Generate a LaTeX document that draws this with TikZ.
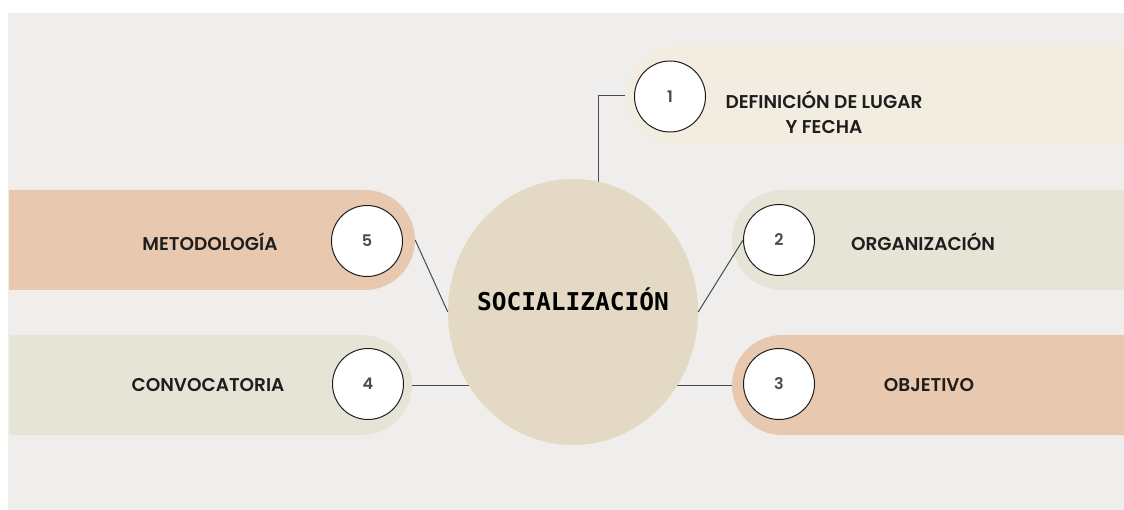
\documentclass[tikz,border=0pt]{standalone}
\usepackage{fontspec}
\setmainfont{Poppins}
\newfontfamily\lblfont{Poppins}[UprightFont=* SemiBold]
\newfontfamily\monofont{DejaVu Sans Mono}
\usetikzlibrary{shapes.geometric,shapes.misc}
\definecolor{bgtex}{HTML}{EFEEEC}
\definecolor{pcream}{HTML}{F3EDE1}
\definecolor{ppeach}{HTML}{E8C9AF}
\definecolor{psage}{HTML}{E6E3D7}
\definecolor{cbeige}{HTML}{E3D9C5}
\definecolor{ink}{HTML}{1E1E1E}
\definecolor{linec}{HTML}{4A4A4A}
\tikzset{
  pillL/.style={rounded rectangle, rounded rectangle left arc=none, minimum height=100pt, inner sep=0pt, draw=none},
  pillR/.style={rounded rectangle, rounded rectangle right arc=none, minimum height=100pt, inner sep=0pt, draw=none},
  numc/.style={circle, draw=ink, line width=1pt, fill=white, minimum size=71pt, inner sep=0pt, text=linec, font=\lblfont\fontsize{16}{18}\selectfont},
  lbl/.style={text=ink, font=\lblfont\fontsize{18.5}{25}\selectfont, align=center, inner sep=0pt},
  conn/.style={draw=linec, line width=1pt}
}
\begin{document}
\begin{tikzpicture}[x=1pt,y=-1pt]
\clip (0,0) rectangle (1124,510);
\fill[white] (0,0) rectangle (1124,510);
\fill[bgtex] (8,13) rectangle (1124,510);
% pills
\node[pillL, fill=ppeach, minimum width=406pt] (p5) at (212,240) {};
\node[pillL, fill=psage, minimum width=403pt] (p4) at (210.5,385) {};
\node[pillR, fill=psage, minimum width=440pt] (p2) at (952,240) {};
\node[pillR, fill=ppeach, minimum width=440pt] (p3) at (952,385) {};
\node[pillR, fill=pcream, minimum width=540pt, minimum height=99pt] (p1) at (895,95.5) {};
% connectors
\coordinate (k1) at (598,250);
\draw[conn] (k1) |- (p1.west);
\draw[conn] (p4.east) -- (573,385);
\draw[conn] (573,385) -- (p3.west);
% central ellipse
\node[ellipse, fill=cbeige, minimum width=250pt, minimum height=266pt, inner sep=0pt] (c) at (573,312) {};
\node[text=black, font=\monofont\bfseries\fontsize{24.5}{28}\selectfont, inner sep=0pt] (ct) at (573,299) {SOCIALIZACIÓN};
% number circles
\node[numc] (n1) at (670,96.5) {1};
\node[numc] (n2) at (779,240) {2};
\node[numc] (n3) at (779,384) {3};
\node[numc] (n4) at (368,384) {4};
\node[numc] (n5) at (367,241) {5};
\draw[conn] (p5.east) -- (c.west);
\draw[conn] (c.east) -- (n2.west);
% labels
\node[lbl] (t1) at (824,112.5) {DEFINICIÓN DE LUGAR\\Y FECHA};
\node[lbl] (t2) at (923,242) {ORGANIZACIÓN};
\node[lbl] (t3) at (929,385) {OBJETIVO};
\node[lbl] (t4) at (208,385) {CONVOCATORIA};
\node[lbl] (t5) at (210,242) {METODOLOGÍA};
\end{tikzpicture}
\end{document}
